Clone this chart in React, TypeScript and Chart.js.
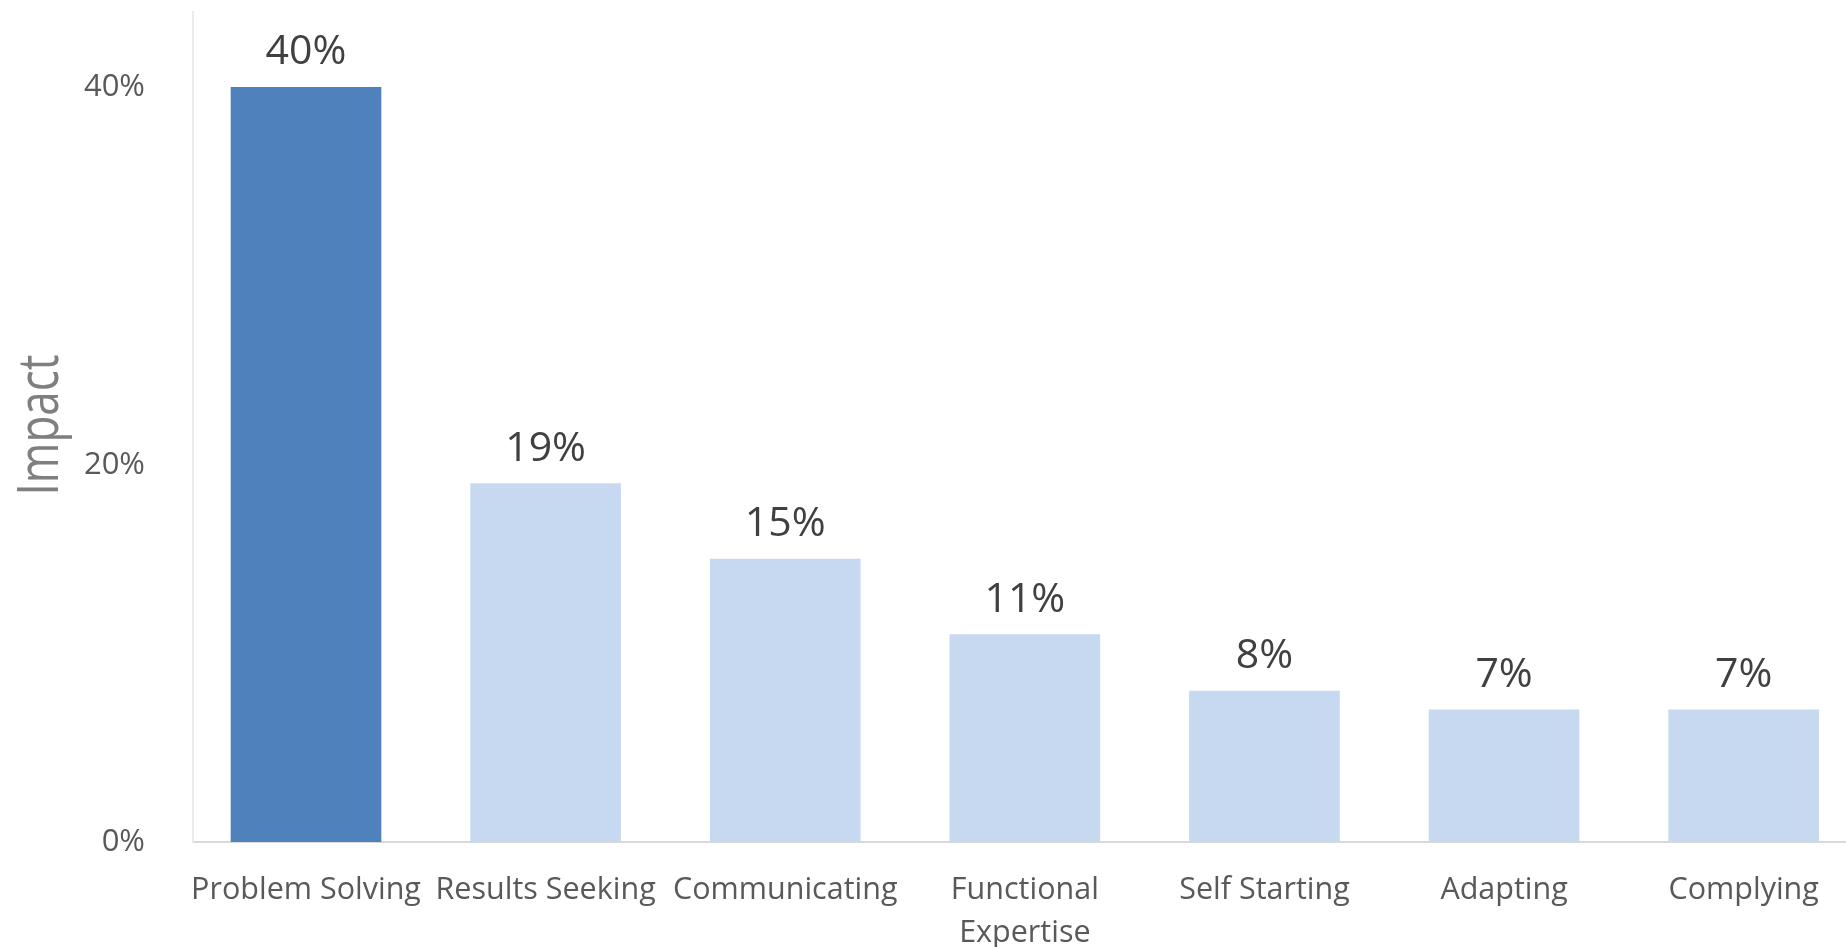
import React, { useEffect, useRef } from "react";
import { Chart, registerables } from "chart.js";

Chart.register(...registerables);

const categories: (string | string[])[] = [
  "Problem Solving",
  "Results Seeking",
  "Communicating",
  ["Functional", "Expertise"],
  "Self Starting",
  "Adapting",
  "Complying",
];
const impactValues = [0.4, 0.19, 0.15, 0.11, 0.08, 0.07, 0.07];
const yTickValues = [0, 0.2, 0.4];
const barColors = ["#4f81bd", "#c6d9f1", "#c6d9f1", "#c6d9f1", "#c6d9f1", "#c6d9f1", "#c6d9f1"];
const axisTitle = "Impact";

const pct = (v: number) => `${Math.round(v * 100)}%`;

const valueLabelPlugin = {
  id: "valueLabels",
  afterDatasetsDraw(chart: any) {
    const ctx = chart.ctx;
    const meta = chart.getDatasetMeta(0);
    ctx.save();
    ctx.font = "41px 'Open Sans'";
    ctx.fillStyle = "#404040";
    ctx.textAlign = "center";
    ctx.textBaseline = "alphabetic";
    meta.data.forEach((el: any, i: number) => {
      ctx.fillText(pct(impactValues[i]), el.x, el.y - 23);
    });
    ctx.restore();
  },
};

const axisTitlePlugin = {
  id: "condensedAxisTitle",
  afterDraw(chart: any) {
    const ctx = chart.ctx;
    const y = chart.scales.y;
    const cy = (chart.chartArea.top + chart.chartArea.bottom) / 2;
    ctx.save();
    ctx.translate(y.left + 58, cy - 2);
    ctx.rotate(-Math.PI / 2);
    ctx.scale(0.77, 1);
    ctx.font = "400 57px 'Open Sans'";
    ctx.fillStyle = "#7f7f7f";
    ctx.textAlign = "center";
    ctx.textBaseline = "alphabetic";
    ctx.fillText(axisTitle, 0, 0);
    ctx.restore();
  },
};

const zeroPadding = (scale: any) => {
  scale.paddingTop = 0;
  scale.paddingBottom = 0;
  scale.paddingLeft = 0;
  scale.paddingRight = 0;
};

export default function App() {
  const ref = useRef<HTMLCanvasElement | null>(null);

  useEffect(() => {
    if (!ref.current) return;
    Chart.defaults.font.family = "'Open Sans', sans-serif";
    const chart = new Chart(ref.current, {
      type: "bar",
      data: {
        datasets: [
          {
            data: impactValues.map((v, i) => ({ x: i, y: v })),
            backgroundColor: barColors,
            borderWidth: 0,
            barThickness: 150,
          },
        ],
      },
      options: {
        animation: false,
        responsive: false,
        maintainAspectRatio: false,
        layout: { padding: { top: 12, left: 0, right: 0, bottom: 0 } },
        plugins: {
          legend: { display: false },
          tooltip: { enabled: false },
        },
        scales: {
          x: {
            type: "linear",
            offset: false,
            min: -0.4716,
            max: 6.427,
            grid: { display: false },
            border: { display: true, color: "#d9d9d9", width: 2 },
            afterBuildTicks: (scale: any) => {
              scale.ticks = categories.map((_, i) => ({ value: i }));
            },
            afterFit: (scale: any) => {
              scale.height = 105;
              zeroPadding(scale);
            },
            ticks: {
              autoSkip: false,
              maxRotation: 0,
              minRotation: 0,
              padding: 19,
              color: "#595959",
              font: { size: 30.5, lineHeight: 1.4 },
              callback: (value: any) => categories[value as number],
            },
          },
          y: {
            min: 0,
            max: 0.44,
            grid: { display: false },
            border: { display: true, color: "#ebebeb", width: 2 },
            afterBuildTicks: (scale: any) => {
              scale.ticks = yTickValues.map((v) => ({ value: v }));
            },
            afterFit: (scale: any) => {
              scale.width = 193;
              zeroPadding(scale);
            },
            ticks: {
              padding: 40,
              color: "#595959",
              font: { size: 31 },
              callback: (value: any) => pct(value as number),
            },
          },
        },
      },
      plugins: [valueLabelPlugin, axisTitlePlugin],
    } as any);
    return () => chart.destroy();
  }, []);

  return (
    <div style={{ position: "fixed", left: 0, top: 0, width: 1846, height: 947, background: "#fff" }}>
      <canvas ref={ref} width={1846} height={947} style={{ display: "block" }} />
    </div>
  );
}
